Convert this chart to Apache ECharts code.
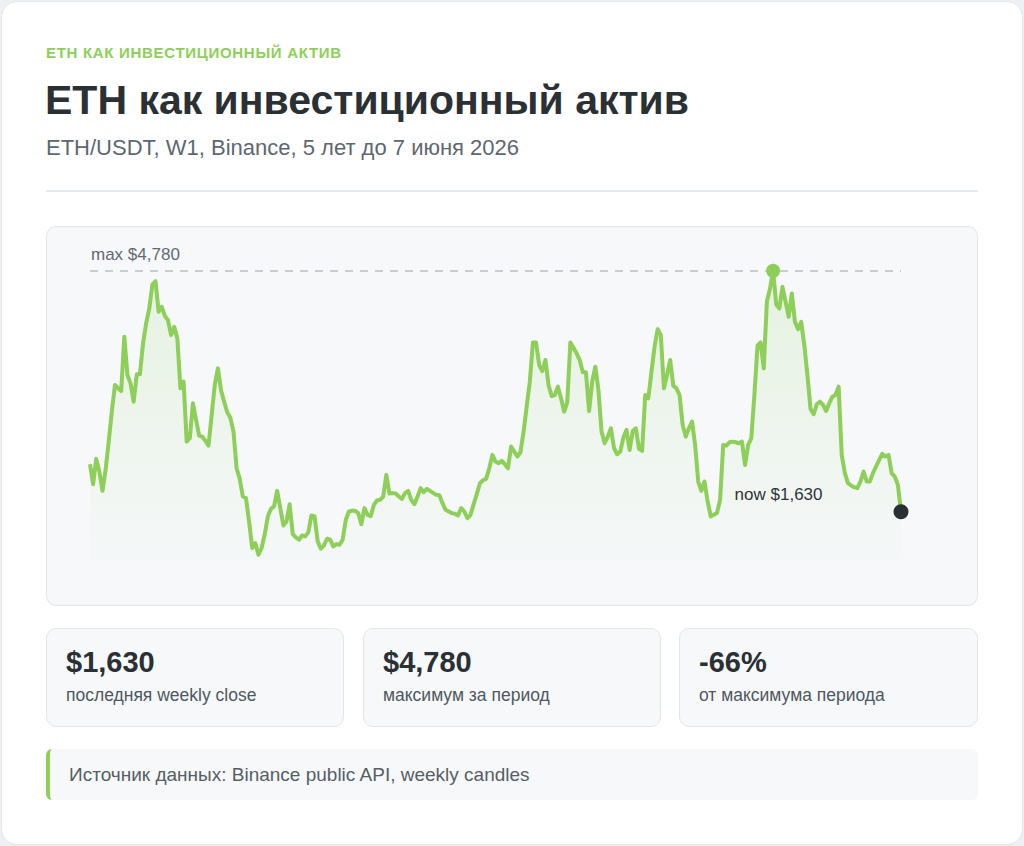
<!DOCTYPE html>
<html lang="ru">
<head>
<meta charset="utf-8">
<title>ETH как инвестиционный актив</title>
<script src="https://cdn.jsdelivr.net/npm/echarts@6/dist/echarts.min.js"></script>
<style>
    html, body { margin: 0; padding: 0; }
    body {
        width: 1024px; height: 846px; position: relative; overflow: hidden;
        background: #eef1f4;
        font-family: "Liberation Sans", Arial, sans-serif;
        color: #2a2f33;
    }
    .card {
        position: absolute; left: 1px; top: 1px; width: 1020px; height: 842px;
        background: #fff; border: 1px solid #e3e7eb; border-radius: 16px;
    }
    .abs { position: absolute; white-space: nowrap; }
    #eyebrow { left: 46px; top: 44px; font-size: 15px; font-weight: bold; color: #8dcf58; letter-spacing: 0.7px; }
    #title { left: 45px; top: 77px; font-size: 41px; font-weight: bold; color: #2b3034; }
    #subtitle { left: 46px; top: 135px; font-size: 22px; color: #5d676f; }
    #divider { left: 46px; top: 190px; width: 932px; height: 2px; background: #e3e8ed; }
    #panel {
        left: 46px; top: 226px; width: 930px; height: 378px;
        background: #f6f8fa; border: 1px solid #e1e6eb; border-radius: 10px;
    }
    #chart { position: absolute; left: 46px; top: 226px; width: 932px; height: 380px; }
    .stat {
        position: absolute; top: 628px; height: 97px;
        background: #f6f8fa; border: 1px solid #e1e6eb; border-radius: 10px;
    }
    .stat .val { position: absolute; left: 19px; top: 17px; font-size: 29px; font-weight: bold; color: #2b3034; }
    .stat .lbl { position: absolute; left: 19px; top: 56px; font-size: 17.5px; color: #4f585f; }
    #source {
        left: 46px; top: 749px; width: 928px; height: 51px;
        background: #f6f8fa; border-left: 4px solid #8dcf58; border-radius: 6px;
    }
    #source span { position: absolute; left: 19px; top: 15px; font-size: 19px; color: #565e65; }
</style>
</head>
<body>
<div class="card"></div>
<div class="abs" id="eyebrow">ETH КАК ИНВЕСТИЦИОННЫЙ АКТИВ</div>
<div class="abs" id="title">ETH как инвестиционный актив</div>
<div class="abs" id="subtitle">ETH/USDT, W1, Binance, 5 лет до 7 июня 2026</div>
<div class="abs" id="divider"></div>
<div class="abs" id="panel"></div>
<div id="chart"></div>

<div class="stat" style="left:46px;width:296px;"><div class="val">$1,630</div><div class="lbl">последняя weekly close</div></div>
<div class="stat" style="left:363px;width:296px;"><div class="val">$4,780</div><div class="lbl">максимум за период</div></div>
<div class="stat" style="left:679px;width:297px;"><div class="val">-66%</div><div class="lbl">от максимума периода</div></div>

<div class="abs" id="source"><span>Источник данных: Binance public API, weekly candles</span></div>

<script>
// недельные закрытия ETH/USDT (оценка по графику)
var closes2021 = [2252, 1991, 2322, 2157, 1904, 2178, 2548, 2940, 3288, 3244, 3209, 3918, 3418, 3309, 3070,
    3427, 3427, 3831, 4092, 4288, 4601, 4645, 4245, 4310, 4192, 4136, 3940, 4049, 3897];
var closes2022 = [3244, 3331, 2548, 2592, 3048, 2831, 2626, 2613, 2557, 2496, 2896, 3288, 3505, 3222, 3070,
    2931, 2861, 2678, 2200, 2061, 1830, 1809, 1504, 1156, 1221, 1069, 1156, 1330, 1569, 1669, 1700,
    1904, 1678, 1452, 1504, 1730, 1339, 1295, 1265, 1321, 1308, 1365, 1582, 1569, 1243, 1147, 1191,
    1278, 1265, 1178, 1208, 1200];
var closes2023 = [1265, 1526, 1634, 1643, 1643, 1613, 1469, 1678, 1591, 1574, 1721, 1778, 1787, 1830, 2113,
    1869, 1874, 1869, 1830, 1800, 1874, 1904, 1787, 1730, 1830, 1939, 1887, 1930, 1904, 1878, 1852,
    1848, 1743, 1656, 1634, 1613, 1604, 1583, 1678, 1634, 1548, 1591, 1730, 1861, 2004, 2043, 2061,
    2200, 2374, 2287, 2265, 2296];
var closes2024 = [2252, 2200, 2483, 2418, 2352, 2409, 2678, 3005, 3331, 3844, 3844, 3549, 3470, 3614, 3288,
    3144, 3157, 3266, 3114, 2940, 3061, 3844, 3775, 3701, 3614, 3453, 3453, 2948, 3331, 3527, 3222,
    2678, 2526, 2613, 2722, 2461, 2383, 2418, 2600, 2700, 2439, 2687, 2722, 2452, 2426, 3157, 3114,
    3462, 3788, 4018, 3940, 3244, 3418];
var closes2025 = [3614, 3279, 3244, 3157, 2765, 2613, 2722, 2809, 2504, 2026, 1904, 2026, 1765, 1569, 1591,
    1613, 1787, 2504, 2496, 2539, 2548, 2539, 2526, 2548, 2243, 2504, 2591, 3157, 3801, 3844, 3505,
    4375, 4549, 4780, 4340, 4288, 4571, 4375, 4179, 4484, 4114, 4018, 4114, 3810, 3418, 2974, 2905,
    3035, 3070, 3027, 2948, 3048];
var closes2026 = [3135, 3157, 3266, 2374, 2135, 2004, 1974, 1952, 1939, 2026, 2157, 2026, 2026, 2135, 2222,
    2309, 2387, 2352, 2374, 2135, 2091, 1982, 1630];

var closes = closes2021.concat(closes2022, closes2023, closes2024, closes2025, closes2026);

// даты недель: последняя свеча 7 июня 2026
var lastWeek = '2026-06-07';
var weeks = [];
(function () {
    var end = new Date(lastWeek + 'T00:00:00Z');
    for (var i = closes.length - 1; i >= 0; i--) {
        var d = new Date(end.getTime() - i * 7 * 86400000);
        weeks.push(d.toISOString().slice(0, 10));
    }
})();

var maxValue = 4780;
var lastValue = 1630;
var maxIndex = closes.indexOf(maxValue);
var lastIndex = closes.length - 1;

var green = '#8dcf58';

var chart = echarts.init(document.getElementById('chart'), null, { renderer: 'svg' });
var option = {
    animation: false,
    grid: { left: 44, right: 77, top: 28, bottom: 46 },
    xAxis: {
        type: 'category',
        data: weeks,
        boundaryGap: false,
        show: false
    },
    yAxis: {
        type: 'value',
        min: 1000,
        max: 5000,
        show: false
    },
    series: [{
        name: 'ETH/USDT',
        type: 'line',
        data: closes,
        symbol: 'none',
        lineStyle: { color: green, width: 4, join: 'round' },
        areaStyle: {
            color: new echarts.graphic.LinearGradient(0, 0, 0, 1, [
                { offset: 0, color: 'rgba(141, 207, 88, 0.22)' },
                { offset: 1, color: 'rgba(141, 207, 88, 0.02)' }
            ])
        },
        markLine: {
            silent: true,
            symbol: 'none',
            lineStyle: { color: '#b7c0c8', width: 1.5, type: [8, 7] },
            label: {
                show: true,
                position: 'insideStartTop',
                formatter: 'max $4,780',
                color: '#626b73',
                fontSize: 17,
                distance: [1, 8]
            },
            data: [{ yAxis: maxValue }]
        },
        markPoint: {
            silent: true,
            symbol: 'circle',
            data: [{
                coord: [maxIndex, maxValue],
                symbolSize: 14,
                itemStyle: { color: green },
                label: { show: false }
            }, {
                coord: [lastIndex, lastValue],
                symbolSize: 15,
                itemStyle: { color: '#2a2f33' },
                label: {
                    show: true,
                    position: 'left',
                    formatter: 'now $1,630',
                    color: '#2f3438',
                    fontSize: 17,
                    offset: [-66, -17]
                }
            }]
        }
    }]
};
chart.setOption(option);
</script>
</body>
</html>
